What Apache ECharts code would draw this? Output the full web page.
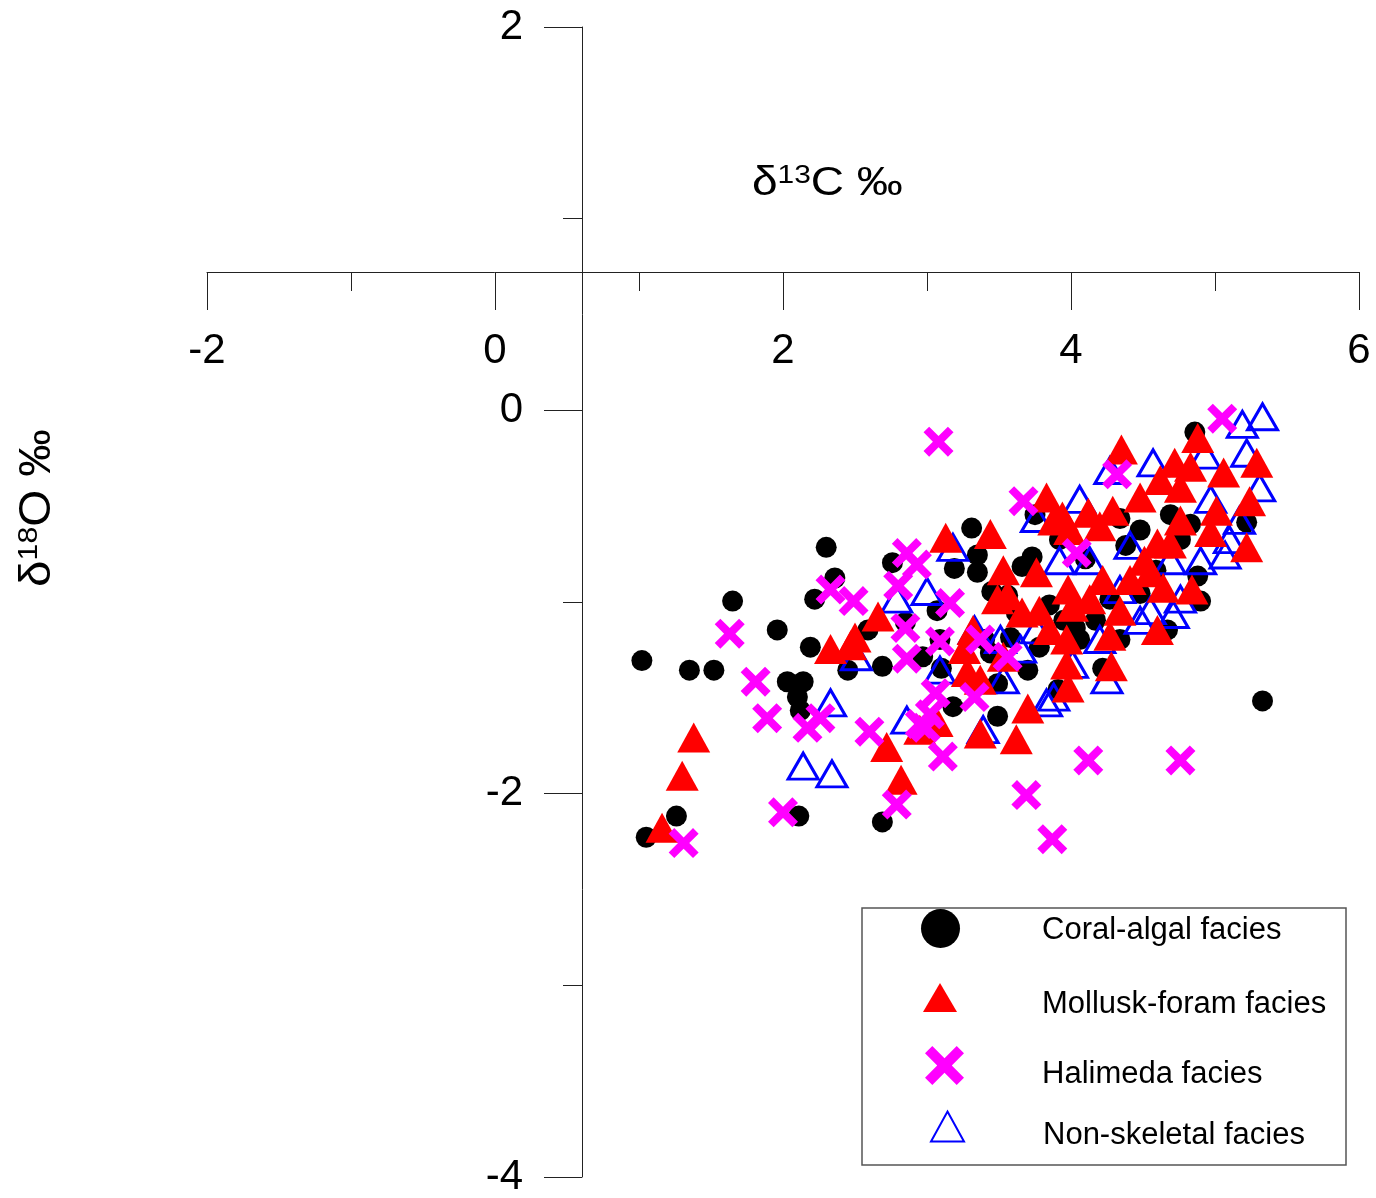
<!DOCTYPE html>
<html>
<head>
<meta charset="utf-8">
<script src="https://cdn.jsdelivr.net/npm/echarts@6/dist/echarts.min.js"></script>
<style>
  html, body { margin: 0; padding: 0; background: #fff; }
  #chart { width: 1376px; height: 1198px; }
</style>
</head>
<body>
<div id="chart"></div>
<script>
// 刻度
var xTicks = [-2, 0, 2, 4, 6];
var yTicks = [-4, -2, 0, 2];

// 图例名称
var seriesNames = ["Coral-algal facies", "Mollusk-foram facies", "Halimeda facies", "Non-skeletal facies"];

// [δ13C, δ18O]
var coralAlgal = [
  [1.02,-1.30],[1.05,-2.22],[1.26,-2.11],[1.35,-1.35],[1.52,-1.35],[1.65,-0.99],[1.96,-1.14],
  [2.03,-1.41],[2.14,-1.41],[2.10,-1.49],[2.11,-2.11],[2.12,-1.56],[2.19,-1.23],[2.22,-0.98],
  [2.30,-0.71],[2.36,-0.87],[2.45,-1.35],[2.59,-1.14],[2.69,-2.14],[2.69,-1.33],[2.76,-0.79],
  [2.85,-1.10],[2.97,-1.28],[3.07,-1.04],[3.09,-1.19],[3.10,-1.34],[3.18,-1.54],[3.19,-0.82],
  [3.31,-0.61],[3.35,-0.84],[3.35,-0.75],[3.40,-1.19],[3.45,-0.94],[3.49,-1.59],[3.49,-1.42],
  [3.44,-1.26],[3.58,-1.18],[3.62,-1.05],[3.66,-0.81],[3.70,-1.35],[3.73,-0.76],[3.75,-0.54],
  [3.78,-1.23],[3.85,-1.01],[3.91,-1.45],[3.95,-1.09],[4.03,-1.13],[4.06,-1.19],[4.10,-0.77],
  [4.17,-1.09],[4.22,-1.34],[4.27,-0.98],[4.34,-0.56],[4.38,-0.70],[4.48,-0.95],[4.59,-0.83],
  [4.67,-1.14],[4.69,-0.54],[4.76,-0.67],[4.83,-0.59],[4.86,-0.11],[4.88,-0.86],[4.90,-0.99],
  [5.22,-0.58],[5.33,-1.51],[4.34,-1.19],[4.48,-0.62],[3.92,-0.67],[3.56,-0.96]
];

var molluskForam = [
  [1.16,-2.17],[1.30,-1.90],[1.38,-1.70],[2.33,-1.24],[2.47,-1.22],[2.50,-1.18],[2.66,-1.07],
  [2.72,-1.75],[2.82,-1.92],[2.95,-1.66],[3.07,-1.62],[3.13,-0.66],[3.44,-0.64],[3.26,-1.24],
  [3.28,-1.36],[3.37,-1.40],[3.37,-1.68],[3.32,-1.14],[3.53,-0.83],[3.49,-0.98],[3.56,-0.96],
  [3.53,-1.28],[3.62,-1.71],[3.70,-1.55],[3.66,-1.05],[3.76,-0.84],[3.83,-0.45],[3.88,-0.57],
  [3.85,-1.14],[3.94,-0.55],[3.99,-0.62],[3.98,-0.93],[4.01,-1.02],[3.97,-1.19],[3.97,-1.32],
  [3.98,-1.44],[4.12,-0.53],[4.20,-0.60],[4.22,-0.88],[4.27,-1.17],[4.28,-1.33],[4.29,-0.52],
  [4.35,-0.20],[4.48,-0.45],[4.55,-0.84],[4.60,-0.69],[4.60,-1.14],[4.62,-0.36],[4.64,-0.92],
  [4.69,-0.69],[4.72,-0.27],[4.76,-0.40],[4.83,-0.29],[4.84,-0.93],[4.88,-0.14],[4.97,-0.63],
  [5.01,-0.52],[5.06,-0.32],[5.22,-0.71],[5.24,-0.47],[5.29,-0.27],[4.13,-0.98],[4.34,-1.04],
  [4.41,-0.88],[4.76,-0.57],[3.78,-1.04],[4.51,-0.78]
];

var halimeda = [
  [1.31,-2.25],[1.63,-1.16],[1.81,-1.41],[1.89,-1.60],[2.00,-2.09],[2.17,-1.65],[2.26,-1.60],
  [2.33,-0.93],[2.49,-0.99],[2.60,-1.67],[2.79,-2.05],[2.80,-0.91],[2.86,-0.74],[2.93,-0.80],
  [2.85,-1.13],[2.86,-1.29],[2.95,-1.63],[2.99,-1.65],[3.06,-1.47],[3.08,-0.16],[3.09,-1.20],
  [3.11,-1.80],[3.16,-1.00],[3.33,-1.49],[3.37,-1.19],[3.56,-1.28],[3.67,-0.47],[3.69,-2.00],
  [3.87,-2.23],[4.04,-0.74],[4.12,-1.82],[4.32,-0.33],[4.76,-1.82],[5.05,-0.04],[3.02,-1.58]
];

var nonSkeletal = [
  [2.14,-1.85],[2.34,-1.89],[2.33,-1.52],[2.51,-1.28],[2.79,-0.98],[2.86,-1.61],[3.00,-0.94],
  [3.09,-1.35],[3.18,-0.71],[3.39,-1.66],[3.53,-1.40],[3.76,-0.56],[3.76,-1.14],[3.83,-1.52],
  [3.88,-1.49],[4.01,-1.32],[4.25,-1.40],[4.57,-0.27],[4.71,-1.06],[5.19,-0.07],[5.22,-0.22],
  [5.33,-0.03],[5.31,-0.40],[4.06,-0.46],[4.27,-0.31],[4.41,-0.70],[4.48,-1.09],[4.76,-0.98],
  [4.90,-0.78],[4.97,-0.46],[5.10,-0.67],[5.07,-0.75],[3.92,-0.78],[4.13,-0.78],[4.34,-0.93],
  [4.55,-1.04],[3.51,-1.19],[3.65,-1.24],[3.33,-1.14],[4.93,-0.23],[5.17,-0.57],[4.69,-0.78],
  [4.20,-1.19]
];

var FONT = "'Liberation Sans', Arial, Helvetica, sans-serif";
// X 形标记
var crossPath = "path://M0,3.75 L3.75,0 L10,6.25 L16.25,0 L20,3.75 L13.75,10 L20,16.25 L16.25,20 L10,13.75 L3.75,20 L0,16.25 L6.25,10 Z";

var chart = echarts.init(document.getElementById("chart"), null, { renderer: "canvas" });

var axisColor = "#222";
var xMin = xTicks[0], xMax = xTicks[xTicks.length - 1];
var yMin = yTicks[0], yMax = yTicks[yTicks.length - 1];

// 单项图例
function oneLegend(name, top, left, w, h, shiftDown) {
  return {
    data: [name],
    orient: "vertical",
    left: left,
    top: top,
    itemWidth: w,
    itemHeight: h,
    padding: 0,
    selectedMode: false,
    formatter: "{t|{name}}",
    textStyle: {
      fontFamily: FONT,
      fontSize: 31,
      color: "#000",
      rich: {
        t: {
          fontFamily: FONT,
          fontSize: 31,
          lineHeight: 34,
          color: "#000",
          padding: [shiftDown * 2, 0, 0, 1042 - left - w - 5]
        }
      }
    }
  };
}

// 隐藏的坐标轴(只用于定位)
function hiddenAxis(idx) {
  return { type: "value", gridIndex: idx, min: 0, max: 1, show: false };
}

var option = {
  animation: false,
  backgroundColor: "#fff",
  grid: [
    // 数据区
    { left: 207, right: 17, top: 27, bottom: 19 },
    // x 轴所在
    { left: 207, right: 17, top: 27, height: 245 },
    // y 轴所在
    { left: 582, width: 100, top: 27, bottom: 19 }
  ],
  xAxis: [
    { type: "value", gridIndex: 0, min: xMin, max: xMax, show: false },
    {
      type: "value",
      gridIndex: 1,
      min: xMin,
      max: xMax,
      interval: xTicks[1] - xTicks[0],
      position: "bottom",
      axisLine: { show: true, onZero: false, lineStyle: { color: axisColor, width: 1 } },
      axisTick: { show: true, inside: false, length: 38, lineStyle: { color: axisColor } },
      minorTick: { show: true, splitNumber: 2, length: 19, lineStyle: { color: axisColor } },
      axisLabel: { margin: 58, fontSize: 42, color: "#000", fontFamily: FONT },
      splitLine: { show: false }
    },
    hiddenAxis(2)
  ],
  yAxis: [
    { type: "value", gridIndex: 0, min: yMin, max: yMax, show: false },
    hiddenAxis(1),
    {
      type: "value",
      gridIndex: 2,
      min: yMin,
      max: yMax,
      interval: yTicks[1] - yTicks[0],
      position: "left",
      axisLine: { show: true, onZero: false, lineStyle: { color: axisColor, width: 1 } },
      axisTick: { show: true, inside: false, length: 38, lineStyle: { color: axisColor } },
      minorTick: { show: true, splitNumber: 2, length: 19, lineStyle: { color: axisColor } },
      axisLabel: { margin: 59, fontSize: 42, color: "#000", fontFamily: FONT },
      splitLine: { show: false }
    }
  ],
  legend: [
    oneLegend(seriesNames[0], 909, 921, 39, 39, 2),
    oneLegend(seriesNames[1], 975, 923, 34, 29, 7),
    oneLegend(seriesNames[2], 1041, 925, 39, 39, 9),
    oneLegend(seriesNames[3], 1102, 930, 33, 30, 9)
  ],
  graphic: [
    {
      type: "rect",
      shape: { x: 862, y: 908, width: 484, height: 257 },
      style: { fill: "none", stroke: "#555", lineWidth: 1.5 },
      silent: true
    },
    {
      type: "text",
      x: 752,
      y: 163,
      scaleX: 1.15,
      style: {
        text: "{a|δ}{s|13}{a|C ‰}",
        rich: {
          a: { fontFamily: FONT, fontSize: 40, lineHeight: 42, color: "#000" },
          s: { fontFamily: FONT, fontSize: 26, lineHeight: 26, color: "#000", verticalAlign: "top" }
        }
      }
    },
    {
      type: "text",
      x: 38,
      y: 508,
      rotation: Math.PI / 2,
      scaleX: 1.08,
      style: {
        text: "{a|δ}{s|18}{a|O ‰}",
        align: "center",
        verticalAlign: "middle",
        rich: {
          a: { fontFamily: FONT, fontSize: 44, lineHeight: 46, color: "#000" },
          s: { fontFamily: FONT, fontSize: 28, lineHeight: 28, color: "#000", verticalAlign: "top" }
        }
      }
    }
  ],
  series: [
    {
      name: seriesNames[0],
      type: "scatter",
      data: coralAlgal,
      symbol: "circle",
      symbolSize: 21,
      itemStyle: { color: "#000", opacity: 1 },
      z: 2
    },
    {
      name: seriesNames[3],
      type: "scatter",
      data: nonSkeletal,
      symbol: "triangle",
      symbolSize: [30, 26],
      itemStyle: { color: "rgba(0,0,0,0)", borderColor: "#0000ff", borderWidth: 3, opacity: 1 },
      z: 3
    },
    {
      name: seriesNames[1],
      type: "scatter",
      data: molluskForam,
      symbol: "triangle",
      symbolSize: [33, 30],
      itemStyle: { color: "#ff0000", opacity: 1 },
      z: 4
    },
    {
      name: seriesNames[2],
      type: "scatter",
      data: halimeda,
      symbol: crossPath,
      symbolSize: 30,
      itemStyle: { color: "#ff00ff", opacity: 1 },
      z: 5
    }
  ]
};

chart.setOption(option);
</script>
</body>
</html>
